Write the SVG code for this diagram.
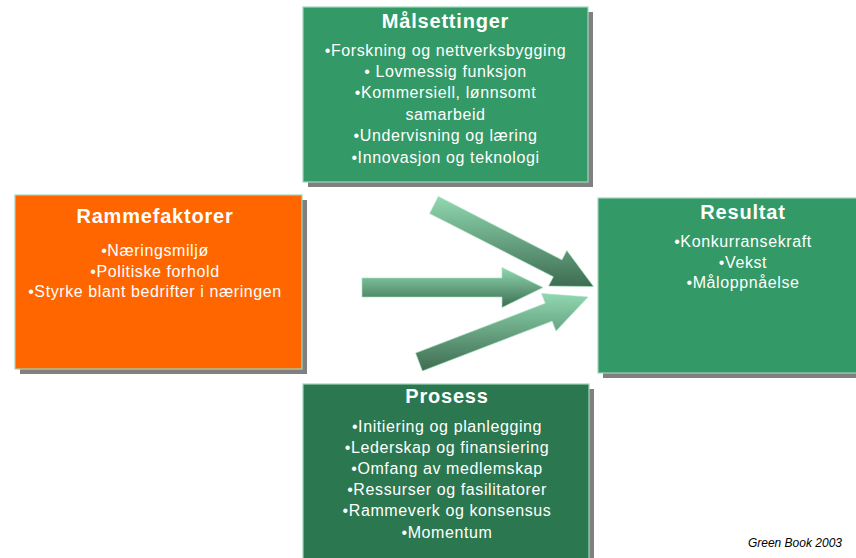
<svg xmlns="http://www.w3.org/2000/svg" width="856" height="558" viewBox="0 0 856 558">
<defs>
<style>
.shadow{fill:#808080}
.box{stroke:#9ED8BA;stroke-width:1.2}
.title{font-family:"Liberation Sans",Arial,sans-serif;font-weight:bold;font-size:20px;fill:#fff;text-anchor:middle;letter-spacing:0.8px}
.body{font-family:"Liberation Sans",Arial,sans-serif;font-size:16px;fill:#fff;text-anchor:middle;letter-spacing:0.6px}
.note{font-family:"Liberation Sans",Arial,sans-serif;font-style:italic;font-size:12px;fill:#000;text-anchor:end}
.arrow{stroke:#A4DFC0;stroke-width:0.6}
</style>
<linearGradient id="ag" x1="0" y1="0" x2="0" y2="1">
<stop offset="0" stop-color="#90D8B0"/>
<stop offset="1" stop-color="#3E6C52"/>
</linearGradient>
<linearGradient id="ag2" x1="0" y1="0" x2="0" y2="1">
<stop offset="0" stop-color="#90D8B0"/>
<stop offset="1" stop-color="#3C6E52"/>
</linearGradient>
</defs>
<rect width="856" height="558" fill="#fff"/>

<g id="connectors">
<polygon class="arrow" fill="url(#ag)" points="438.3,196.5 562,259.9 566.8,250.5 593.5,286.5 548.6,286.1 553.4,276.8 429.7,213.5"/>
<polygon class="arrow" fill="url(#ag2)" points="362,278 502,278 502,267.5 543,287.5 502,307.5 502,297 362,297"/>
<polygon class="arrow" fill="url(#ag)" points="415.6,353.1 545.4,303.3 541.6,293.5 588,297 556,330.9 552.2,321.1 422.4,370.9"/>
</g>

<g id="malsettinger">
<rect class="shadow" x="308" y="12" width="285" height="175"/>
<rect class="box" x="303" y="7" width="285" height="175" fill="#339966"/>
<text class="title" x="445.5" y="28">Målsettinger</text>
<text class="body" x="445.5" y="56">•Forskning og nettverksbygging</text>
<text class="body" x="445.5" y="77">• Lovmessig funksjon</text>
<text class="body" x="445.5" y="98">•Kommersiell, lønnsomt</text>
<text class="body" x="445.5" y="120">samarbeid</text>
<text class="body" x="445.5" y="141">•Undervisning og læring</text>
<text class="body" x="445.5" y="163">•Innovasjon og teknologi</text>
</g>

<g id="rammefaktorer">
<rect class="shadow" x="20" y="200" width="287" height="174"/>
<rect class="box" x="15" y="195" width="287" height="174" fill="#FF6600"/>
<text class="title" x="155" y="223">Rammefaktorer</text>
<text class="body" x="155" y="256">•Næringsmiljø</text>
<text class="body" x="155" y="277">•Politiske forhold</text>
<text class="body" x="155" y="297">•Styrke blant bedrifter i næringen</text>
</g>

<g id="resultat">
<rect class="shadow" x="603" y="203" width="290" height="175"/>
<rect class="box" x="598" y="198" width="290" height="175" fill="#339966"/>
<text class="title" x="743" y="219">Resultat</text>
<text class="body" x="743" y="247">•Konkurransekraft</text>
<text class="body" x="743" y="268">•Vekst</text>
<text class="body" x="743" y="288">•Måloppnåelse</text>
</g>

<g id="prosess">
<rect class="shadow" x="308" y="389" width="286" height="180"/>
<rect class="box" x="303" y="384" width="286" height="180" fill="#2B774F"/>
<text class="title" x="447" y="403">Prosess</text>
<text class="body" x="447" y="432">•Initiering og planlegging</text>
<text class="body" x="447" y="453">•Lederskap og finansiering</text>
<text class="body" x="447" y="474">•Omfang av medlemskap</text>
<text class="body" x="447" y="495">•Ressurser og fasilitatorer</text>
<text class="body" x="447" y="516">•Rammeverk og konsensus</text>
<text class="body" x="447" y="538">•Momentum</text>
</g>

<text class="note" x="842" y="547">Green Book 2003</text>
</svg>
